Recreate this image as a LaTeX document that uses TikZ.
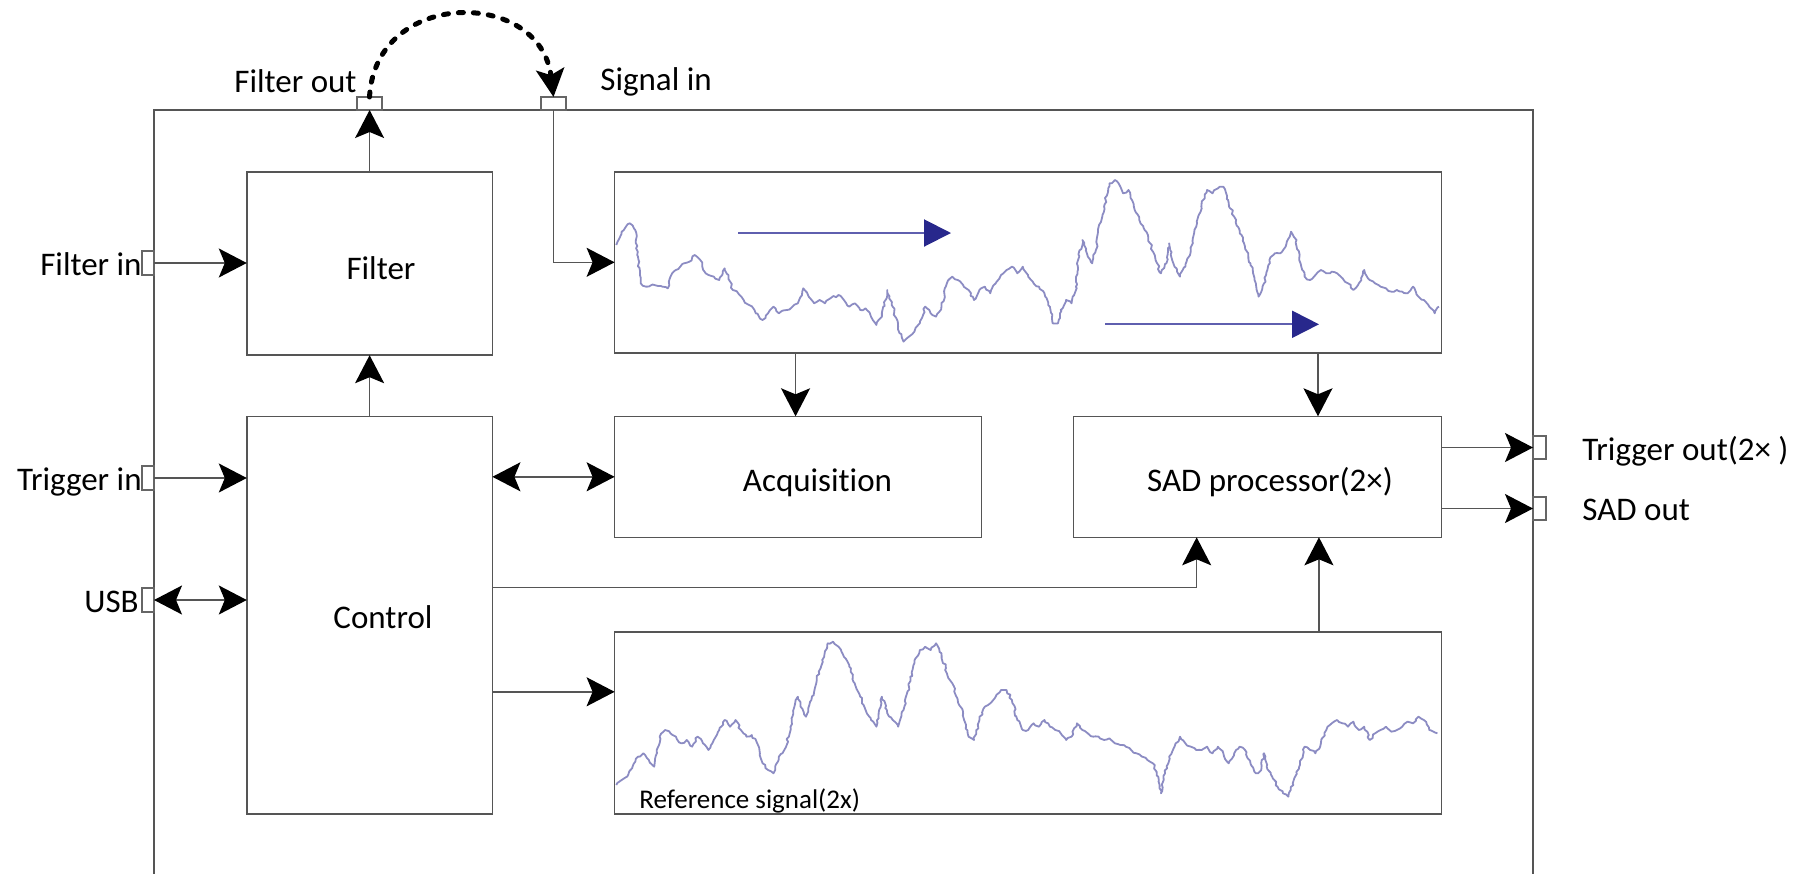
\documentclass[tikz,border=0pt]{standalone}
\usepackage{fontspec}
\setmainfont{Carlito}[Ligatures=NoCommon]
\usetikzlibrary{arrows.meta,calc,decorations.pathmorphing}
\definecolor{wirecol}{RGB}{85,85,85}
\definecolor{tracecol}{RGB}{140,140,195}
\definecolor{blueline}{RGB}{95,95,175}
\definecolor{bluehead}{RGB}{40,40,140}
\begin{document}
\begin{tikzpicture}[x=0.5pt,y=-0.5pt,
  wire/.style={draw=wirecol, line width=0.75pt},
  tipA/.tip={Stealth[length=14pt,width=14.5pt,inset=3pt,black]},
  arr/.style={wire, -tipA},
  darr/.style={wire, tipA-tipA},
  box/.style={draw=wirecol, line width=0.75pt, anchor=north west, inner sep=0pt, outer sep=0pt},
  port/.style={draw=black!60, fill=white, line width=0.6pt, anchor=north west, inner sep=0pt, outer sep=0pt},
  lbl/.style={font=\fontsize{16.5}{19}\selectfont, inner sep=0pt},
  smalllbl/.style={font=\fontsize{13.5}{16}\selectfont, inner sep=0pt},
  trace/.style={draw=tracecol, line width=0.9pt, line join=round,
    decorate, decoration={random steps, segment length=1.5pt, amplitude=0.6pt}},
  bluearr/.style={draw=blueline, line width=1pt,
    -{Triangle[length=13.5pt,width=13.5pt,fill=bluehead,color=bluehead]}},
  dotarc/.style={draw=black, line width=2.5pt, line cap=round, dash pattern=on 2.5pt off 5pt,
    -{Stealth[length=14pt,width=14pt,inset=3pt,black]}}
]
\pgfmathsetseed{11}
\clip (0,0) rectangle (1808,873);

% enclosure
\draw[wire] (154,900) -- (154,110) -- (1533,110) -- (1533,900);

% blocks
\node[box, minimum width=122.8pt, minimum height=91.7pt]  (filter)  at (246.8,171.8) {};
\node[box, minimum width=122.8pt, minimum height=198.9pt] (control) at (246.8,416.3) {};
\node[box, minimum width=413.4pt, minimum height=90.5pt]  (sig)     at (614.6,171.8) {};
\node[box, minimum width=183.35pt, minimum height=60.5pt] (acq)     at (614.6,416.3) {};
\node[box, minimum width=183.95pt, minimum height=60.5pt] (sad)     at (1073.5,416.3) {};
\node[box, minimum width=413.4pt, minimum height=91.1pt]  (ref)     at (614.6,631.9) {};

% block labels
\node[lbl, anchor=base] (filterlbl)  at (381,279)   {Filter};
\node[lbl, anchor=base] (controllbl) at (383,628)   {Control};
\node[lbl, anchor=base] (acqlbl)     at (817.5,491) {Acquisition};
\node[lbl, anchor=base] (sadlbl)     at (1270,491)  {SAD processor(2×)};
\node[smalllbl, anchor=base west] (reflbl) at (639,808) {Reference signal(2x)};

% input signal trace
\begin{scope}[shift={(600,160)}, xscale=0.542, yscale=0.3333]
\draw[trace] plot coordinates {
(30,255) (40,215) (55,190) (65,210) (70,290) (75,370) (85,380) (100,375) (115,380) (125,385)
(130,350) (140,330) (155,310) (165,305) (175,285) (185,300) (195,340) (210,350) (220,360) (230,325)
(237,345) (245,390) (255,400) (265,420) (275,435) (285,450) (300,480) (310,460) (320,440) (330,460)
(345,450) (355,440) (365,430) (375,385) (385,410) (395,430) (405,420) (415,430) (425,415) (440,405)
(450,420) (460,440) (470,430) (480,450) (490,445) (500,470) (510,495) (520,470) (530,390) (540,440)
(550,500) (560,545) (570,530) (580,515) (590,490) (600,440) (610,460) (620,470) (630,440) (640,370)
(650,350) (660,360) (670,375) (680,390) (690,420) (700,390) (710,380) (720,400) (730,370) (740,345)
(750,330) (760,320) (770,340) (780,320) (790,350) (800,370) (810,380) (820,400) (830,440) (835,490)
(845,490) (850,450) (860,420) (870,430) (878,380) (882,300) (890,240) (900,290) (908,310) (915,270)
(920,200) (930,140) (940,70) (950,60) (960,80) (965,100) (975,90) (985,140) (995,180) (1005,210)
(1015,250) (1025,300) (1035,340) (1045,310) (1050,250) (1060,320) (1070,350) (1080,320) (1090,270) (1100,200)
(1110,130) (1120,90) (1130,100) (1140,85) (1150,80) (1160,130) (1170,170) (1180,210) (1190,260) (1200,310)
(1210,370) (1215,410) (1225,370) (1235,300) (1245,280) (1255,280) (1265,260) (1275,215) (1285,240) (1290,300)
(1300,350) (1310,360) (1320,345) (1330,330) (1340,340) (1350,335) (1360,340) (1370,355) (1380,370) (1390,390)
(1400,370) (1410,330) (1420,360) (1430,370) (1440,380) (1450,385) (1460,395) (1470,390) (1480,395) (1490,400)
(1500,380) (1510,410) (1520,420) (1530,440) (1540,460) (1548,440)};
\end{scope}

% reference signal trace
\begin{scope}[shift={(600,620)}, xscale=0.542, yscale=0.3333]
\draw[trace] plot coordinates {
(30,495) (40,480) (50,470) (60,440) (70,410) (80,400) (90,420) (100,440) (105,400) (110,350)
(120,330) (130,340) (140,350) (150,370) (160,360) (170,380) (180,350) (190,370) (200,390) (210,360)
(220,330) (230,300) (240,320) (250,300) (260,330) (270,350) (280,345) (290,370) (295,400) (300,430)
(310,450) (320,460) (330,410) (340,390) (350,340) (355,290) (360,250) (365,230) (370,260) (380,290)
(390,240) (400,180) (410,120) (420,70) (430,65) (440,80) (450,110) (460,140) (470,190) (480,230)
(490,270) (500,300) (510,320) (520,230) (530,280) (540,300) (550,320) (560,270) (570,200) (580,130)
(590,90) (600,80) (610,90) (620,70) (630,100) (640,160) (650,190) (660,240) (670,280) (680,350)
(690,360) (700,300) (710,260) (720,250) (730,230) (740,210) (750,210) (760,240) (770,300) (780,330)
(790,330) (800,310) (810,320) (820,300) (830,320) (840,330) (850,340) (860,360) (870,350) (880,310)
(890,330) (900,340) (910,350) (920,350) (930,360) (940,355) (950,370) (960,375) (970,380) (980,390)
(990,400) (1000,410) (1010,420) (1020,430) (1030,470) (1035,520) (1040,480) (1050,410) (1060,380) (1070,350)
(1080,370) (1090,380) (1100,390) (1110,390) (1120,380) (1130,400) (1140,380) (1150,400) (1160,430) (1170,400)
(1180,380) (1190,390) (1200,430) (1210,460) (1220,450) (1225,400) (1230,440) (1240,470) (1250,500) (1260,520)
(1270,530) (1280,480) (1290,440) (1300,380) (1310,390) (1320,400) (1330,370) (1340,330) (1350,310) (1360,300)
(1370,310) (1380,320) (1390,305) (1400,330) (1410,320) (1420,360) (1430,340) (1440,330) (1450,320) (1460,335)
(1470,330) (1480,320) (1490,305) (1500,310) (1510,290) (1520,300) (1530,330) (1545,340)};
\end{scope}

% sliding-window arrows on the input trace
\coordinate (w1a) at (738,233);
\coordinate (w1b) at (951,233);
\coordinate (w2a) at (1105,324.3);
\coordinate (w2b) at (1319,324.3);
\draw[bluearr] (w1a) -- (w1b);
\draw[bluearr] (w2a) -- (w2b);

% connector ports
\node[port, minimum width=12.5pt, minimum height=6.5pt] (fout) at (357,97)  {};
\node[port, minimum width=12.5pt, minimum height=6.5pt] (sin)  at (541,97)  {};
\node[port, minimum width=6pt, minimum height=12pt]     (fin)  at (142,251) {};
\node[port, minimum width=6pt, minimum height=12pt]     (tin)  at (142,466) {};
\node[port, minimum width=6pt, minimum height=12pt]     (usb)  at (142,588) {};
\node[port, minimum width=6.5pt, minimum height=11.5pt] (tout) at (1533,436) {};
\node[port, minimum width=6.5pt, minimum height=11.5pt] (sout) at (1533,497) {};

% port labels
\node[lbl, anchor=base east] (finlbl)  at (142,275) {Filter in};
\node[lbl, anchor=base east] (tinlbl)  at (142,490) {Trigger in};
\node[lbl, anchor=base east] (usblbl)  at (139,612) {USB};
\node[lbl, anchor=base east] (foutlbl) at (357,92)  {Filter out};
\node[lbl, anchor=base west] (sinlbl)  at (600,90)  {Signal in};
\node[lbl, anchor=base west] (toutlbl) at (1582,460) {Trigger out(2× )};
\node[lbl, anchor=base west] (soutlbl) at (1582,520) {SAD out};

% signal flow
\draw[arr] (fin.east) -- (fin.east -| filter.west);
\draw[arr] (filter.north) -- (filter.north |- fout.south);
\draw[arr] (control.north) -- (filter.south);
\draw[arr] (sin.south) |- (sig.west);
\draw[dotarc] (fout.north) .. controls +(6,-109) and +(-13,-109) .. (sin.north);
\draw[arr] (tin.east) -- (tin.east -| control.west);
\draw[darr] (usb.east) -- (usb.east -| control.west);
\draw[darr] (control.east |- acq.west) -- (acq.west);

\coordinate (acqin) at ([xshift=-1.2pt]acq.north);
\draw[arr] (sig.south -| acqin) -- (acqin);
\coordinate (sadtop) at ([xshift=30.25pt]sad.north);
\draw[arr] (sig.south -| sadtop) -- (sadtop);

\coordinate (ctlout) at ([yshift=13.75pt]control.east);
\coordinate (sadb1) at ([xshift=-30.4pt]sad.south);
\draw[arr] (ctlout) -| (sadb1);
\coordinate (refin) at ([yshift=15.6pt]ref.west);
\draw[arr] (control.east |- refin) -- (refin);
\coordinate (sadb2) at ([xshift=30.75pt]sad.south);
\draw[arr] (ref.north -| sadb2) -- (sadb2);

\draw[arr] (sad.east |- tout.west) -- (tout.west);
\draw[arr] (sad.east |- sout.west) -- (sout.west);
\end{tikzpicture}
\end{document}
